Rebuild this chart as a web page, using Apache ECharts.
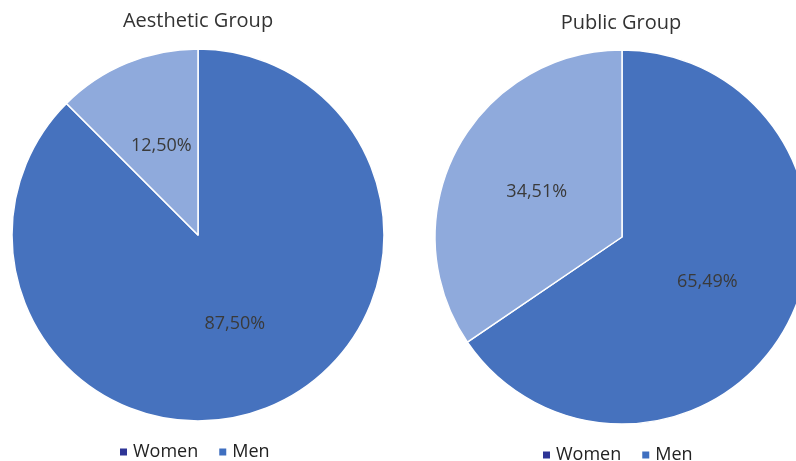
<!DOCTYPE html>
<html>
<head>
<meta charset="utf-8">
<script src="https://cdn.jsdelivr.net/npm/echarts@6/dist/echarts.min.js"></script>
<style>
  html, body { margin: 0; padding: 0; background: #fff; }
  #main { width: 796px; height: 461px; }
</style>
</head>
<body>
<div id="main"></div>
<script>
var categories = ['Men', 'Women'];
var groupNames = ['Aesthetic Group', 'Public Group'];
var aestheticValues = [87.50, 12.50];
var publicValues = [65.49, 34.51];

var sliceColors = ['#4672be', '#8faadc'];
var legendColors = { Women: '#2e3596', Men: '#3f6fc0' };

function fmt(v) {
    return v.toFixed(2).replace('.', ',') + '%';
}

function pieData(values) {
    return categories.map(function (c, i) {
        return { name: c, value: values[i], itemStyle: { color: sliceColors[i] } };
    });
}

var myChart = echarts.init(document.getElementById('main'));

var font = '"Open Sans", "Noto Sans", sans-serif';

function legendAt(left, top) {
    return {
        left: left,
        top: top,
        padding: 0,
        orient: 'horizontal',
        icon: 'rect',
        itemWidth: 9,
        itemHeight: 9,
        itemGap: 19,
        selectedMode: false,
        textStyle: { color: '#222', fontSize: 18, fontFamily: font },
        data: ['Women', 'Men'].map(function (n) {
            return { name: n, itemStyle: { color: legendColors[n] } };
        })
    };
}

var labelStyle = {
    show: true,
    position: 'inner',
    color: '#3a3a3a',
    fontSize: 18,
    fontFamily: font,
    formatter: function (p) { return fmt(p.value); }
};

option = {
    backgroundColor: '#fff',
    animation: false,
    title: [
        {
            text: groupNames[0], left: 198, top: 11, textAlign: 'center', padding: 0,
            textStyle: { color: '#333', fontSize: 20, fontWeight: 'normal', fontFamily: font }
        },
        {
            text: groupNames[1], left: 621, top: 13, textAlign: 'center', padding: 0,
            textStyle: { color: '#333', fontSize: 20, fontWeight: 'normal', fontFamily: font }
        }
    ],
    legend: [legendAt(118, 443), legendAt(541, 446)],
    series: [
        {
            name: groupNames[0],
            type: 'pie',
            center: [198, 235],
            radius: [0, 186],
            startAngle: 90,
            clockwise: true,
            label: labelStyle,
            labelLine: { show: false },
            itemStyle: { borderColor: '#fff', borderWidth: 1.5 },
            emphasis: { disabled: true },
            data: pieData(aestheticValues)
        },
        {
            name: groupNames[1],
            type: 'pie',
            center: [622, 237],
            radius: [0, 187],
            startAngle: 90,
            clockwise: true,
            label: labelStyle,
            labelLine: { show: false },
            itemStyle: { borderColor: '#fff', borderWidth: 1.5 },
            emphasis: { disabled: true },
            data: pieData(publicValues)
        }
    ]
};

myChart.setOption(option);
</script>
</body>
</html>
